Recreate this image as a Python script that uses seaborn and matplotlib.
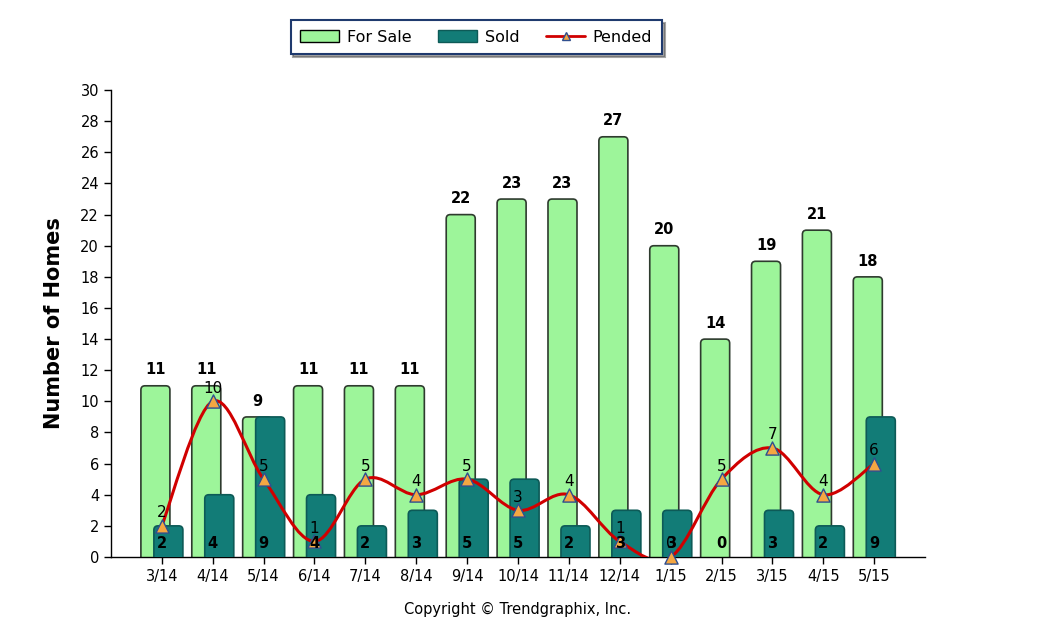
import numpy as np
import pandas as pd
import matplotlib
matplotlib.use("Agg")
import matplotlib.pyplot as plt
import seaborn as sns
from matplotlib.patches import FancyBboxPatch, PathPatch
from matplotlib.path import Path
from matplotlib.lines import Line2D
from matplotlib.patches import Patch

# Data
months = ['3/14', '4/14', '5/14', '6/14', '7/14', '8/14', '9/14', '10/14',
          '11/14', '12/14', '1/15', '2/15', '3/15', '4/15', '5/15']
for_sale = [11, 11, 9, 11, 11, 11, 22, 23, 23, 27, 20, 14, 19, 21, 18]
sold = [2, 4, 9, 4, 2, 3, 5, 5, 2, 3, 3, 0, 3, 2, 9]
pended = [2, 10, 5, 1, 5, 4, 5, 3, 4, 1, 0, 5, 7, 4, 6]

df = pd.DataFrame({'Month': months, 'For Sale': for_sale, 'Sold': sold, 'Pended': pended})

SALE_COLOR = '#9DF59A'
SOLD_COLOR = '#127C77'
LINE_COLOR = '#D00000'
MARK_COLOR = '#F5A742'

sns.set_style('white')
plt.rcParams['font.family'] = ['DejaVu Sans']
plt.rcParams['text.color'] = 'black'
plt.rcParams['axes.labelcolor'] = 'black'
plt.rcParams['xtick.color'] = 'black'
plt.rcParams['ytick.color'] = 'black'

fig = plt.figure(figsize=(10.56, 6.4), dpi=100)
ax = fig.add_axes([0.105, 0.1297, 0.771, 0.7295])

bar_w = 0.57
sns.barplot(data=df, x='Month', y='For Sale', color=SALE_COLOR, width=bar_w,
            saturation=1, ax=ax)
n_sale = len(ax.patches)
sns.barplot(data=df, x='Month', y='Sold', color=SOLD_COLOR, width=bar_w,
            saturation=1, ax=ax)

# shift the two series so they overlap, then swap in rounded-top bars
patches = list(ax.patches)
for i, p in enumerate(patches):
    x, w, h = p.get_x(), p.get_width(), p.get_height()
    if i < n_sale:
        x -= 0.125
        fc, ec, z = SALE_COLOR, '#2E3B2E', 2
    else:
        x += 0.13
        fc, ec, z = SOLD_COLOR, '#0D5A57', 3
    p.remove()
    if h <= 0:
        continue
    rb = FancyBboxPatch((x, -1), w, h + 1,
                        boxstyle='round,pad=0,rounding_size=0.08',
                        mutation_aspect=3.3, facecolor=fc, edgecolor=ec,
                        linewidth=1.2, zorder=z)
    ax.add_patch(rb)

# smooth pended curve (Catmull-Rom as Bezier segments)
xs = np.arange(len(pended), dtype=float)
ys = np.array(pended, dtype=float)
pts = np.column_stack([xs, ys])
verts = [pts[0]]
codes = [Path.MOVETO]
for i in range(len(pts) - 1):
    p0 = pts[i - 1] if i > 0 else pts[i]
    p1, p2 = pts[i], pts[i + 1]
    p3 = pts[i + 2] if i + 2 < len(pts) else pts[i + 1]
    c1 = p1 + (p2 - p0) / 6
    c2 = p2 - (p3 - p1) / 6
    verts += [c1, c2, p2]
    codes += [Path.CURVE4] * 3
ax.add_patch(PathPatch(Path(verts, codes), facecolor='none', edgecolor=LINE_COLOR,
                       linewidth=2.2, zorder=4))
sns.scatterplot(x=xs, y=ys, marker='^', s=90, color=MARK_COLOR,
                edgecolor='#2F4F8F', linewidth=1, zorder=5, ax=ax, clip_on=False)

# value labels
for i in range(len(months)):
    ax.annotate(str(for_sale[i]), (i - 0.125, for_sale[i]), xytext=(0, 6),
                textcoords='offset points', ha='center', va='bottom',
                fontsize=10.5, fontweight='bold', zorder=6)
    ax.annotate(str(sold[i]), (i, 0), xytext=(0, 4),
                textcoords='offset points', ha='center', va='bottom',
                fontsize=10.5, fontweight='bold', zorder=6)
    ax.annotate(str(pended[i]), (i, pended[i]), xytext=(0, 4),
                textcoords='offset points', ha='center', va='bottom',
                fontsize=11, zorder=6)

ax.set_xlim(-1, 15)
ax.set_ylim(0, 30)
ax.set_yticks(range(0, 31, 2))
ax.set_xticks(range(len(months)))
ax.set_xticklabels(months)
ax.tick_params(axis='both', direction='out', length=5, width=1, color='black',
               labelsize=10.5, bottom=True, left=True)
ax.set_xlabel('')
ax.set_ylabel('Number of Homes', fontsize=15, fontweight='bold', labelpad=12)
for s in ['top', 'right']:
    ax.spines[s].set_visible(False)
for s in ['left', 'bottom']:
    ax.spines[s].set_color('black')
    ax.spines[s].set_linewidth(1)

handles = [
    Patch(facecolor=SALE_COLOR, edgecolor='black', label='For Sale'),
    Patch(facecolor=SOLD_COLOR, edgecolor='#0D5A57', label='Sold'),
    Line2D([0], [0], color=LINE_COLOR, linewidth=2, marker='^', markersize=6,
           markerfacecolor=MARK_COLOR, markeredgecolor='#2F4F8F', label='Pended'),
]
leg = fig.legend(handles=handles, loc='center', bbox_to_anchor=(0.451, 0.942),
                 ncol=3, frameon=True, fancybox=False, shadow=True, fontsize=11.5,
                 handlelength=2.4, handletextpad=0.5, columnspacing=1.7,
                 borderpad=0.6)
leg.get_frame().set_edgecolor('#1F3A6E')
leg.get_frame().set_linewidth(1.5)

fig.text(0.49, 0.047, 'Copyright \u00a9 Trendgraphix, Inc.', ha='center', va='center',
         fontsize=10.5)

fig.savefig('out.png', dpi=100)
